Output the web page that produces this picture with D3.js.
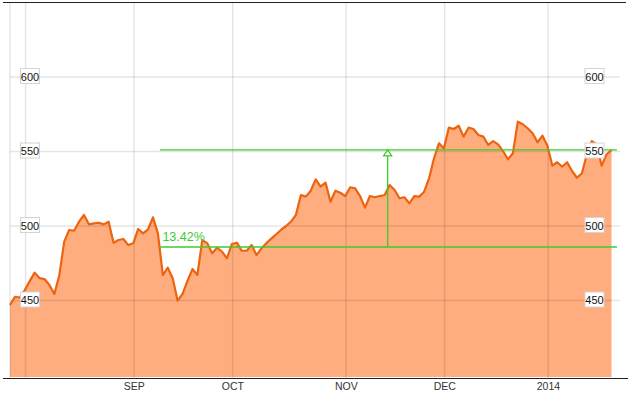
<!DOCTYPE html>
<html>
<head>
<meta charset="utf-8">
<script src="https://cdn.jsdelivr.net/npm/d3@7"></script>
<style>
  body { margin: 0; background: #fff; }
  svg { display: block; font-family: "Liberation Sans", Arial, sans-serif; }
</style>
</head>
<body>
<div id="chart"></div>
<script>
// Daily closes, one per trading day (late Jul 2013 .. Jan 2014)
var closes = [
  447, 452.5, 452, 457, 463, 468.7, 465, 464.4, 460.4, 454.4,
  467, 489.5, 497.3, 496.8, 502.9, 507.4, 501.1, 501.8, 502.2, 501.1,
  502.9, 488.8, 490.6, 491.3, 487.2, 488.4, 498, 495.1, 497.8, 505.8,
  495.1, 467.1, 472, 464.9, 449.9, 454.4, 463.1, 471.1, 467.1, 490.5,
  488.5, 481.7, 485.4, 482.8, 478.3, 487.9, 488.8, 483.4, 483.4, 487.2,
  480.5, 485, 488.5, 491.5, 494.5, 497.5, 500, 503, 507.5, 520.8,
  519.7, 523.7, 531.3, 526.4, 529.1, 516.3, 523.7, 522.3, 520.1, 526,
  525.3, 520.1, 512.3, 520.1, 519.3, 520.1, 520.8, 527.5, 524.2, 518.6,
  519.3, 515.2, 520.1, 519.7, 523, 532, 545.4, 555.5, 552.1, 566,
  565.1, 567.3, 560, 566, 565.1, 561.1, 560, 554.4, 557, 554.8,
  550.3, 544.8, 548.8, 570, 568.3, 565.6, 562.2, 556.2, 560.6, 553.9,
  540.5, 542.8, 539.8, 542.8, 536.9, 532.4, 535.4, 548, 557, 554.8,
  540.5, 548.1, 551
];

// month boundaries (trading-day index) and their labels
var monthIndex = [3, 25, 45, 68, 88, 109];
var monthLabels = ["", "SEP", "OCT", "NOV", "DEC", "2014"];

var yTicks = [450, 500, 550, 600];

// percent-change measurement drawn on the chart
var measureFrom = 485.9;
var measureTo = 551.1;
var measureStart = 30.4;
var measureArrow = 76.6;
var measureEnd = 123.1;
var measureLabel = "13.42%";

var width = 631;
var height = 395;

var svg = d3.select("#chart").append("svg")
  .attr("width", width)
  .attr("height", height);

// index -> pixel, value -> pixel
var xScale = d3.scaleLinear().domain([0, closes.length - 1]).range([10, 611.5]);
var yScale = d3.scaleLinear().domain([450, 600]).range([300.5, 77]);
var bottom = 377;

// area + line
var area = d3.area()
  .x(function(d, i) { return xScale(i); })
  .y0(bottom)
  .y1(function(d) { return yScale(d); });

var line = d3.line()
  .x(function(d, i) { return xScale(i); })
  .y(function(d) { return yScale(d); });

svg.append("path")
  .datum(closes)
  .attr("d", area)
  .attr("fill", "#ffac7e");

// grid lines (drawn over the fill, faint)
var grid = svg.append("g")
  .attr("stroke", "#000")
  .attr("stroke-opacity", 0.1)
  .attr("stroke-width", 1.5);

grid.append("line")
  .attr("x1", 10).attr("x2", 10)
  .attr("y1", 3).attr("y2", 378);

grid.selectAll(".vgrid")
  .data(monthIndex)
  .enter().append("line")
  .attr("class", "vgrid")
  .attr("x1", function(d) { return xScale(d) + 0.8; })
  .attr("x2", function(d) { return xScale(d) + 0.8; })
  .attr("y1", 3)
  .attr("y2", 378);

grid.selectAll(".hgrid")
  .data(yTicks)
  .enter().append("line")
  .attr("class", "hgrid")
  .attr("x1", 10)
  .attr("x2", 620)
  .attr("y1", function(d) { return yScale(d); })
  .attr("y2", function(d) { return yScale(d); });

svg.append("path")
  .datum(closes)
  .attr("d", line)
  .attr("fill", "none")
  .attr("stroke", "#ec6410")
  .attr("stroke-width", 2.2)
  .attr("stroke-linejoin", "round");

// measurement lines
var green = "#3ccc2c";
var meas = svg.append("g").attr("stroke", green).attr("stroke-width", 1.3);

meas.append("line")
  .attr("x1", xScale(measureStart)).attr("x2", xScale(measureEnd))
  .attr("y1", yScale(measureFrom)).attr("y2", yScale(measureFrom));
meas.append("line")
  .attr("x1", xScale(measureStart)).attr("x2", xScale(measureEnd))
  .attr("y1", yScale(measureTo)).attr("y2", yScale(measureTo));
meas.append("line")
  .attr("x1", xScale(measureArrow)).attr("x2", xScale(measureArrow))
  .attr("y1", yScale(measureFrom)).attr("y2", yScale(measureTo));

var ax = xScale(measureArrow);
var ay = yScale(measureTo);
meas.append("path")
  .attr("d", "M" + ax + "," + ay + " L" + (ax - 4) + "," + (ay + 6) + " L" + (ax + 4) + "," + (ay + 6) + " Z")
  .attr("fill", "#fff");

svg.append("text")
  .attr("x", xScale(measureStart) + 2.5)
  .attr("y", yScale(measureFrom) - 6)
  .attr("fill", green)
  .attr("font-size", "12.5px")
  .text(measureLabel);

// top border and bottom axis line
svg.append("line")
  .attr("x1", 3).attr("x2", 626)
  .attr("y1", 2.5).attr("y2", 2.5)
  .attr("stroke", "#222").attr("stroke-width", 1.2);

svg.append("line")
  .attr("x1", 3).attr("x2", 628)
  .attr("y1", 378.5).attr("y2", 378.5)
  .attr("stroke", "#222").attr("stroke-width", 1);

// month labels
svg.selectAll(".mlabel")
  .data(monthIndex)
  .enter().append("text")
  .attr("class", "mlabel")
  .attr("x", function(d) { return xScale(d) + 1; })
  .attr("y", 390)
  .attr("text-anchor", "middle")
  .attr("font-size", "10.5px")
  .attr("fill", "#333")
  .text(function(d, i) { return monthLabels[i]; });

// y value labels in boxes, both sides
function drawLabels(cx) {
  var g = svg.append("g").selectAll("g")
    .data(yTicks)
    .enter().append("g")
    .attr("transform", function(d) { return "translate(" + cx + "," + yScale(d) + ")"; });
  g.append("rect")
    .attr("x", -9.5).attr("y", -8.5)
    .attr("width", 19).attr("height", 15)
    .attr("fill", "#fff")
    .attr("stroke", "#d4d4d4")
    .attr("stroke-width", 1);
  g.append("text")
    .attr("y", 3.5)
    .attr("text-anchor", "middle")
    .attr("font-size", "11px")
    .attr("fill", "#111")
    .text(function(d) { return d; });
}
drawLabels(30);
drawLabels(594.5);
</script>
</body>
</html>
